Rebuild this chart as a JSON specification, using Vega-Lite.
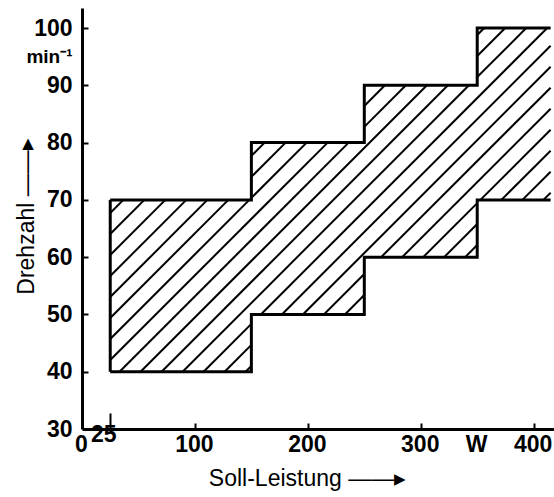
{
  "$schema": "https://vega.github.io/schema/vega-lite/v6.json",
  "width": 472,
  "height": 421,
  "autosize": {"type": "none"},
  "padding": {"left": 82, "top": 8, "right": 0, "bottom": 68},
  "background": "white",
  "config": {
    "view": {"stroke": null},
    "axis": {
      "domainColor": "black",
      "domainWidth": 3,
      "tickColor": "black",
      "tickWidth": 2,
      "labelColor": "black",
      "titleColor": "black",
      "grid": false,
      "labelFont": "Liberation Sans, Arial, sans-serif",
      "labelFontWeight": "bold",
      "labelFontSize": 23,
      "labelOverlap": false,
      "labelFlush": false,
      "labelBound": false,
      "titleFont": "Liberation Sans, Arial, sans-serif",
      "titleFontWeight": "normal",
      "titleFontSize": 23
    }
  },
  "datasets": {
    "steps": [
      {"leistung": 25, "lo": 40, "hi": 70},
      {"leistung": 150, "lo": 50, "hi": 80},
      {"leistung": 250, "lo": 60, "hi": 90},
      {"leistung": 350, "lo": 70, "hi": 100},
      {"leistung": 415, "lo": 70, "hi": 100}
    ],
    "hatch": [
      {"x1": 25, "y1": 67.71, "x2": 36.62, "y2": 70},
      {"x1": 25, "y1": 64.04, "x2": 55.24, "y2": 70},
      {"x1": 25, "y1": 60.38, "x2": 73.8, "y2": 70},
      {"x1": 25, "y1": 56.71, "x2": 92.42, "y2": 70},
      {"x1": 25, "y1": 53.04, "x2": 111.04, "y2": 70},
      {"x1": 150, "y1": 77.68, "x2": 161.76, "y2": 80},
      {"x1": 25, "y1": 49.38, "x2": 129.6, "y2": 70},
      {"x1": 150, "y1": 74.02, "x2": 180.33, "y2": 80},
      {"x1": 25, "y1": 45.71, "x2": 148.22, "y2": 70},
      {"x1": 150, "y1": 70.35, "x2": 198.94, "y2": 80},
      {"x1": 25, "y1": 42.04, "x2": 217.56, "y2": 80},
      {"x1": 250, "y1": 86.4, "x2": 268.28, "y2": 90},
      {"x1": 33.23, "y1": 40, "x2": 236.13, "y2": 80},
      {"x1": 250, "y1": 82.74, "x2": 286.85, "y2": 90},
      {"x1": 51.84, "y1": 40, "x2": 305.47, "y2": 90},
      {"x1": 350, "y1": 98.78, "x2": 356.19, "y2": 100},
      {"x1": 70.46, "y1": 40, "x2": 324.08, "y2": 90},
      {"x1": 350, "y1": 95.11, "x2": 374.81, "y2": 100},
      {"x1": 89.07, "y1": 40, "x2": 342.7, "y2": 90},
      {"x1": 350, "y1": 91.44, "x2": 393.42, "y2": 100},
      {"x1": 107.64, "y1": 40, "x2": 150, "y2": 48.35},
      {"x1": 158.36, "y1": 50, "x2": 411.99, "y2": 100},
      {"x1": 126.25, "y1": 40, "x2": 150, "y2": 44.68},
      {"x1": 176.98, "y1": 50, "x2": 415, "y2": 96.92},
      {"x1": 144.87, "y1": 40, "x2": 150, "y2": 41.01},
      {"x1": 195.6, "y1": 50, "x2": 415, "y2": 93.25},
      {"x1": 214.16, "y1": 50, "x2": 250, "y2": 57.07},
      {"x1": 264.89, "y1": 60, "x2": 415, "y2": 89.59},
      {"x1": 232.78, "y1": 50, "x2": 250, "y2": 53.4},
      {"x1": 283.5, "y1": 60, "x2": 415, "y2": 85.92},
      {"x1": 302.12, "y1": 60, "x2": 350, "y2": 69.44},
      {"x1": 352.84, "y1": 70, "x2": 415, "y2": 82.25},
      {"x1": 320.68, "y1": 60, "x2": 350, "y2": 65.78},
      {"x1": 371.41, "y1": 70, "x2": 415, "y2": 78.59},
      {"x1": 339.3, "y1": 60, "x2": 350, "y2": 62.11},
      {"x1": 390.02, "y1": 70, "x2": 415, "y2": 74.92},
      {"x1": 408.64, "y1": 70, "x2": 415, "y2": 71.25}
    ]
  },
  "layer": [
    {
      "data": {"name": "hatch"},
      "mark": {"type": "rule", "color": "black", "strokeWidth": 2},
      "encoding": {
        "x": {
          "field": "x1", "type": "quantitative",
          "scale": {"domain": [0, 418], "nice": false, "zero": false},
          "title": "Soll-Leistung ——▸",
          "axis": {
            "values": [0, 25, 100, 200, 300, 350, 400],
            "labelExpr": "datum.value == 350 ? 'W' : datum.label",
            "labelOffset": {"condition": {"test": "datum.value == 25", "value": -7}, "value": -1},
            "tickSize": {"condition": {"test": "datum.value == 25", "value": -16}, "value": -6},
            "tickOpacity": {"condition": {"test": "datum.value == 0 || datum.value == 350", "value": 0}, "value": 1},
            "labelPadding": 10,
            "titleX": 225,
            "titleY": 56,
            "titleBaseline": "alphabetic",
            "titleAnchor": "middle"
          }
        },
        "y": {
          "field": "y1", "type": "quantitative",
          "scale": {"domain": [30, 103.5], "nice": false, "zero": false},
          "title": "Drehzahl ——▸",
          "axis": {
            "values": [30, 40, 50, 60, 70, 80, 90, 95, 100],
            "labelExpr": "datum.value == 95 ? 'min⁻¹' : datum.label",
            "labelFontSize": {"condition": {"test": "datum.value == 95", "value": 19}, "value": 23},
            "tickSize": -6,
            "tickOpacity": {"condition": {"test": "datum.value == 30 || datum.value == 95", "value": 0}, "value": 1},
            "labelPadding": 16,
            "titleX": -49,
            "titleY": 208,
            "titleAngle": -90,
            "titleAlign": "center",
            "titleBaseline": "alphabetic"
          }
        },
        "x2": {"field": "x2"},
        "y2": {"field": "y2"}
      }
    },
    {
      "data": {"name": "steps"},
      "mark": {"type": "line", "interpolate": "step-after", "color": "black", "strokeWidth": 3},
      "encoding": {
        "x": {"field": "leistung", "type": "quantitative", "title": "Soll-Leistung ——▸"},
        "y": {"field": "hi", "type": "quantitative", "title": "Drehzahl ——▸"}
      }
    },
    {
      "data": {"name": "steps"},
      "mark": {"type": "line", "interpolate": "step-after", "color": "black", "strokeWidth": 3},
      "encoding": {
        "x": {"field": "leistung", "type": "quantitative", "title": "Soll-Leistung ——▸"},
        "y": {"field": "lo", "type": "quantitative", "title": "Drehzahl ——▸"}
      }
    },
    {
      "data": {"name": "steps"},
      "transform": [{"filter": "datum.leistung == 25"}],
      "mark": {"type": "rule", "color": "black", "strokeWidth": 3},
      "encoding": {
        "x": {"field": "leistung", "type": "quantitative", "title": "Soll-Leistung ——▸"},
        "y": {"field": "lo", "type": "quantitative", "title": "Drehzahl ——▸"},
        "y2": {"field": "hi"}
      }
    }
  ]
}
